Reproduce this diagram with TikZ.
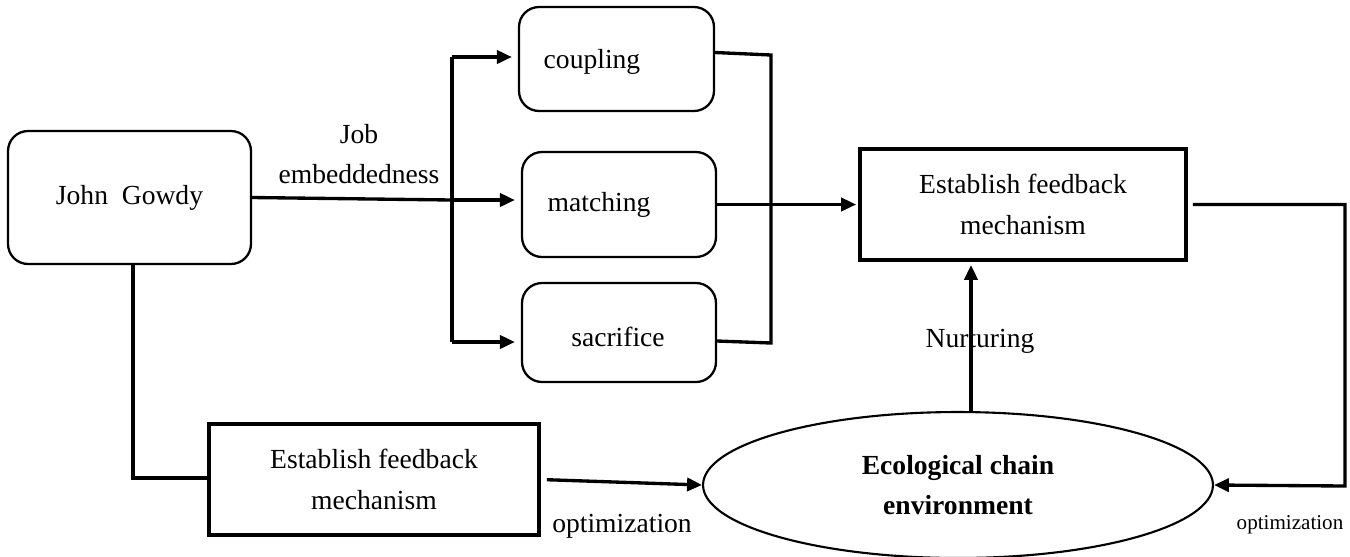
\documentclass[tikz,border=0pt]{standalone}
\usepackage{fontspec}
\setmainfont{Liberation Serif}
\usetikzlibrary{arrows.meta,shapes.geometric}
\begin{document}
\begin{tikzpicture}[x=0.02cm,y=-0.02cm,
  txt/.style={font=\fontsize{15.7pt}{23pt}\selectfont, align=center, inner sep=0pt},
  smalltxt/.style={font=\fontsize{12pt}{14pt}\selectfont, inner sep=0pt},
  rbox/.style={draw, line width=1.3pt, rounded corners=0.4cm, inner sep=0pt},
  sbox/.style={draw, line width=2.2pt, inner sep=0pt, txt},
  conn/.style={line width=1.9pt},
  arr/.style={conn, -{Triangle[length=8.5pt,width=7.5pt]}}]
\useasboundingbox (0,0) rectangle (1350,556);

% nodes
\node[rbox, txt, minimum width=4.86cm, minimum height=2.66cm] (jg) at (129.5,197.5) {\raisebox{-0.06cm}{John~~Gowdy}};
\node[rbox, minimum width=3.9cm, minimum height=2.08cm] (coupling) at (616.5,59) {};
\node[txt] (couplingtext) at (592,62) {coupling};
\node[rbox, minimum width=3.88cm, minimum height=2.1cm] (matching) at (619,204.5) {};
\node[txt] (matchingtext) at (599,205) {matching};
\node[rbox, minimum width=3.88cm, minimum height=1.98cm] (sacrifice) at (619,332.5) {};
\node[txt] (sacrificetext) at (618,337) {sacrifice};
\node[sbox, minimum width=6.52cm, minimum height=2.22cm] (fbtop) at (1023,204.5) {Establish feedback\\mechanism};
\node[sbox, minimum width=6.6cm, minimum height=2.22cm] (fbbot) at (374,479.5) {Establish feedback\\mechanism};
\node[draw, ellipse, line width=1.2pt, inner sep=0pt, minimum width=10.2cm, minimum height=2.92cm, txt] (eco) at (958,485) {\textbf{Ecological chain}\\\textbf{environment}};

% labels
\node[txt] (job) at (359,154) {Job\\embeddedness};
\node[txt] (opt1) at (622,526) {optimization};
\node[smalltxt] (opt2) at (1290,525) {optimization};
\node[txt] (nurt) at (980,341) {Nurturing};

% coordinates
\coordinate (bt) at (452,57);
\coordinate (bm) at (452,200);
\coordinate (bb) at (452,342);
\coordinate (rt) at (771,55);
\coordinate (rb) at (771,343);
\coordinate (rc) at (1345,486);
\coordinate (nb) at (971,412);
\coordinate (jb) at (133,478);

% connectors
\draw[conn] (jg.east) -- (bm);
\draw[conn] (bt) -- (bb);
\draw[arr, shorten >=0.12cm] (bt) -- (bt -| coupling.west);
\draw[arr, shorten >=0.12cm] (bm) -- (bm -| matching.west);
\draw[arr, shorten >=0.12cm] (bb) -- (bb -| sacrifice.west);
\draw[conn] ([yshift=0.13cm]coupling.east) -- (rt) -- (rb) -- ([yshift=-0.17cm]sacrifice.east);
\draw[arr, shorten >=0.04cm] (matching.east) -- (fbtop.west);
\draw[arr] ([xshift=0.1cm]fbtop.east) -| (rc) -- (eco.east);
\draw[arr, shorten >=0.06cm] (nb) -- (nb |- fbtop.south);
\draw[conn] (jg.south -| jb) -- (jb) -- (jb -| fbbot.west);
\draw[arr, shorten <=0.12cm] (fbbot.east) -- (eco.west);
\end{tikzpicture}
\end{document}
